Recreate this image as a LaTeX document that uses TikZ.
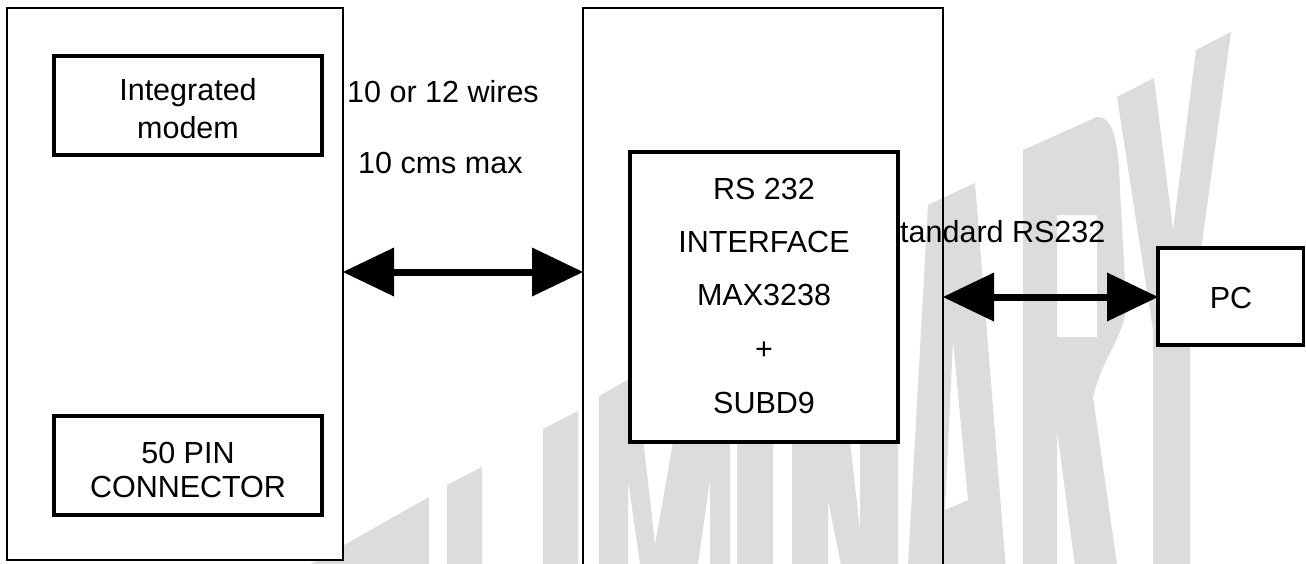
\documentclass[tikz,border=0pt]{standalone}
\usepackage{fontspec}
\setmainfont{Liberation Sans}
\usetikzlibrary{arrows.meta}
\definecolor{wm}{HTML}{DCDCDC}
\begin{document}
\begin{tikzpicture}[x=1pt,y=-1pt,
  thinbox/.style={draw=black, line width=1.3pt, rectangle, inner sep=0pt, outer sep=0pt},
  thickbox/.style={draw=black, line width=3.3pt, fill=white, rectangle, inner sep=0pt, outer sep=0pt},
  txt/.style={font=\fontsize{30.5}{36}\selectfont, inner sep=0pt, anchor=base},
  ltxt/.style={txt, anchor=base west},
  bigtip/.tip={Triangle[length=51pt,width=49pt,line width=0pt]},
  dblarrow/.style={line width=7pt, bigtip-bigtip},
  wmark/.style={fill=wm, draw=none}]
\path[use as bounding box] (0,0) rectangle (1306,563);
\clip (0,0) rectangle (1306,563);
\fill[white] (0,0) rectangle (1306,563);
% watermark
\fill[wmark] (300,620) -- (300,570) -- (429,497) -- (429,620) -- cycle;
\fill[wmark] (447,620) -- (447,485) -- (482,467) -- (482,620) -- cycle;
\fill[wmark] (543,620) -- (543,429) -- (578,411) -- (578,620) -- cycle;
\fill[wmark] (599,620) -- (599,396) -- (636,375) -- (655,545) -- (688,357) -- (730,333) -- (730,620) -- (710,620) -- (710,480) -- (690,620) -- (648,620) -- (628,480) -- (628,620) -- cycle;
\fill[wmark] (737,620) -- (737,318) -- (773,297) -- (773,620) -- cycle;
\fill[wmark] (792,620) -- (792,285) -- (830,263) -- (860,530) -- (860,245) -- (898,223) -- (898,620) -- (852,620) -- (828,500) -- (828,620) -- cycle;
\fill[wmark, even odd rule] (905,620) -- (928,205) -- (975,183) -- (1010,620) -- cycle
  (953,340) -- (968,500) -- (945,510) -- cycle;
\fill[wmark, even odd rule] (1023,620) -- (1023,150) -- (1097,117) .. controls (1115,116) and (1119,150) .. (1120,190) -- (1126,300) .. controls (1127,335) and (1105,350) .. (1093,397) -- (1125,620) -- (1082,620) -- (1057,430) -- (1057,620) -- cycle
  (1057,215) -- (1097,215) -- (1097,337) -- (1057,337) -- cycle;
\fill[wmark] (1153,620) -- (1153,330) -- (1117,97) -- (1154,78) -- (1173,230) -- (1196,50) -- (1231,32) -- (1190,330) -- (1190,620) -- cycle;
% boxes
\node[thinbox, fill=white, minimum width=336pt, minimum height=552pt] (lbox) at (175,284) {};
\node[thinbox, minimum width=360pt, minimum height=592pt] (mbox) at (763,304) {};
\node[thickbox, minimum width=268pt, minimum height=99pt] (modem) at (188,105.5) {};
\node[thickbox, minimum width=268pt, minimum height=99pt] (pin) at (188,465.5) {};
\node[thickbox, minimum width=268pt, minimum height=290pt] (rs) at (764,297) {};
\node[thickbox, minimum width=145.5pt, minimum height=97pt] (pc) at (1230.75,296.5) {};
% texts
\node[txt] (t1) at (188,100) {Integrated};
\node[txt] (t2) at (188,138) {modem};
\node[txt] (t3) at (188,463) {50 PIN};
\node[txt] (t4) at (188,497) {CONNECTOR};
\node[ltxt] (w1) at (347,102) {10 or 12 wires};
\node[ltxt] (w2) at (358,173) {10 cms max};
\node[txt] (r1) at (764,199) {RS 232};
\node[txt] (r2) at (764,252) {INTERFACE};
\node[txt] (r3) at (764,305) {MAX3238};
\node[txt] (r4) at (764,359) {+};
\node[txt] (r5) at (764,413) {SUBD9};
\node[ltxt] (s1) at (900,242) {tandard RS232};
\node[txt] (p1) at (1231,308) {PC};
% connectors
\coordinate (ya) at (0,272);
\coordinate (yb) at (0,297);
\draw[dblarrow] (ya -| lbox.east) -- (ya -| mbox.west);
\draw[dblarrow] (yb -| mbox.east) -- (yb -| pc.west);
\end{tikzpicture}
\end{document}
